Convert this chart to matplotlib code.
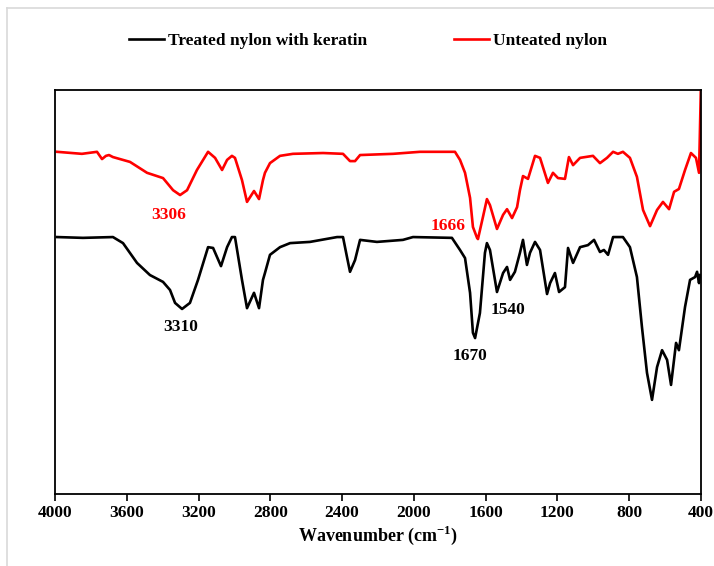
import matplotlib
matplotlib.use('Agg')
import matplotlib.pyplot as plt
from matplotlib.lines import Line2D

plt.rcParams['font.family'] = ['Liberation Serif', 'DejaVu Serif']
plt.rcParams['font.weight'] = 'bold'
plt.rcParams['mathtext.fontset'] = 'custom'
plt.rcParams['mathtext.rm'] = 'Liberation Serif:bold'
plt.rcParams['mathtext.bf'] = 'Liberation Serif:bold'

# untreated nylon (red), wavenumber cm-1 / transmittance (a.u.)
wn_red = [3989, 3850, 3766, 3738, 3716, 3699, 3677, 3582, 3487, 3398, 3342, 3303, 3264,
          3209, 3147, 3108, 3069, 3041, 3014, 2997, 2958, 2930, 2891, 2863, 2841, 2830,
          2802, 2746, 2674, 2506, 2395, 2356, 2328, 2300, 2116, 1966, 1771, 1743, 1715,
          1687, 1671, 1648, 1643, 1615, 1593, 1576, 1537, 1503, 1481, 1453, 1425, 1409,
          1392, 1364, 1325, 1297, 1253, 1225, 1197, 1158, 1136, 1113, 1074, 1002, 963,
          924, 890, 863, 835, 796, 757, 723, 684, 645, 612, 578, 550, 523, 489, 456,
          428, 411, 400]
t_red = [84.7, 84.2, 84.7, 82.9, 83.7, 83.9, 83.4, 82.2, 79.5, 78.2, 75.2, 74.0, 75.2,
         80.2, 84.7, 83.2, 80.2, 82.7, 83.7, 83.2, 77.7, 72.3, 75.0, 73.0, 77.7, 79.5,
         81.9, 83.7, 84.2, 84.4, 84.2, 82.4, 82.4, 83.9, 84.2, 84.7, 84.7, 82.7, 79.5,
         73.3, 66.1, 63.4, 63.1, 68.6, 73.0, 71.5, 65.6, 69.1, 70.5, 68.3, 71.0, 75.2,
         78.7, 78.0, 83.7, 83.2, 77.0, 79.5, 78.2, 78.0, 83.4, 81.4, 83.2, 83.7, 81.9,
         83.2, 84.7, 84.2, 84.7, 83.2, 78.5, 70.3, 66.3, 70.3, 72.3, 70.5, 74.8, 75.5,
         80.2, 84.4, 83.2, 79.5, 102.0]

# nylon treated with keratin (black)
wn_blk = [3989, 3844, 3677, 3621, 3543, 3471, 3398, 3359, 3331, 3292, 3248, 3203, 3147,
          3119, 3075, 3041, 3014, 2997, 2958, 2930, 2891, 2863, 2841, 2830, 2802, 2746,
          2690, 2579, 2428, 2395, 2373, 2356, 2328, 2300, 2206, 2061, 2005, 1788, 1743,
          1715, 1687, 1671, 1659, 1632, 1604, 1593, 1576, 1537, 1503, 1481, 1464, 1437,
          1409, 1392, 1370, 1353, 1325, 1297, 1258, 1241, 1214, 1191, 1158, 1141, 1113,
          1074, 1030, 996, 963, 941, 918, 890, 835, 796, 757, 729, 701, 673, 645, 617,
          589, 567, 539, 523, 489, 461, 433, 422, 411, 406]
t_blk = [63.6, 63.4, 63.6, 62.1, 57.2, 54.2, 52.5, 50.5, 47.3, 45.8, 47.3, 53.0, 61.1,
         60.9, 56.4, 61.1, 63.6, 63.6, 53.0, 46.0, 49.8, 46.0, 53.0, 54.7, 59.2, 61.1,
         62.1, 62.4, 63.6, 63.6, 58.7, 55.0, 57.9, 62.9, 62.4, 62.9, 63.6, 63.4, 60.4,
         58.4, 49.8, 39.9, 38.6, 44.8, 59.7, 62.1, 60.4, 50.0, 54.7, 56.2, 53.0, 55.0,
         59.7, 62.9, 56.7, 59.7, 62.4, 60.4, 49.5, 52.2, 54.7, 50.0, 51.2, 60.9, 57.2,
         61.1, 61.6, 62.9, 59.9, 60.4, 59.2, 63.6, 63.6, 61.1, 53.7, 41.3, 30.0, 23.3,
         31.4, 35.6, 33.2, 27.0, 37.4, 35.6, 46.3, 53.0, 53.7, 55.0, 52.2, 54.2]

# peak labels: text, wavenumber, y, colour
peak_txt = ['3306', '3310', '1666', '1670', '1540']
peak_wn = [3365, 3298, 1810, 1687, 1476]
peak_y = [69.1, 41.3, 66.3, 34.2, 45.5]
peak_col = ['red', 'black', 'red', 'black', 'black']

xticks = [4000, 3600, 3200, 2800, 2400, 2000, 1600, 1200, 800, 400]

fig = plt.figure(figsize=(7.14, 5.66), dpi=100)
ax = fig.add_axes([55 / 714, 1 - 494 / 566, 646 / 714, 404 / 566])

ax.plot(wn_blk, t_blk, color='black', lw=1.9, label='Treated nylon with keratin')
ax.plot(wn_red, t_red, color='red', lw=1.9, label='Unteated nylon')

for s, w, y, c in zip(peak_txt, peak_wn, peak_y, peak_col):
  ax.text(w, y, s, color=c, fontsize=12.5, fontweight='bold', ha='center', va='center')

ax.set_xlim(4000, 400)
ax.set_ylim(0, 100)
ax.set_xticks(xticks)
ax.set_xticklabels([str(t) for t in xticks], fontsize=12.5, fontweight='bold')
ax.set_yticks([])
ax.tick_params(axis='x', direction='out', length=5, width=1.2, pad=3)
for sp in ax.spines.values():
  sp.set_linewidth(1.3)
  sp.set_color('black')
ax.set_xlabel('Wavenumber (cm$^{\\mathrm{-1}}$)', fontsize=13, fontweight='bold', labelpad=2)

fig.legend(loc='center', bbox_to_anchor=(368 / 714, 1 - 41 / 566), ncol=2, frameon=False,
           prop={'size': 12.5, 'weight': 'bold'}, handlelength=2.0, handletextpad=0.25,
           columnspacing=5.0)

# light chart-area border
fig.add_artist(Line2D([7 / 714, 7 / 714], [0, 1 - 8 / 566], color='#d9d9d9', lw=1.2))
fig.add_artist(Line2D([7 / 714, 1], [1 - 8 / 566, 1 - 8 / 566], color='#d9d9d9', lw=1.2))

fig.savefig('out.png', dpi=100)
